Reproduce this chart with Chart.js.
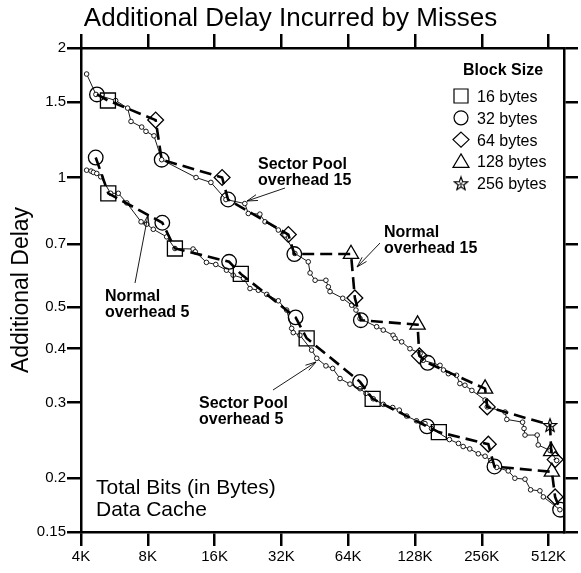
<!DOCTYPE html>
<html>
<head>
<meta charset="utf-8">
<script src="https://cdn.jsdelivr.net/npm/chart.js@4/dist/chart.umd.min.js"></script>
<style>
  html, body { margin: 0; padding: 0; background: #fff; }
  canvas { display: block; }
</style>
</head>
<body>
<canvas id="missChart" width="581" height="573"></canvas>
<script>
// Axis ticks (cache size in KBytes, delay)
const xTickValues = [4, 8, 16, 32, 64, 128, 256, 512]
const xTickLabels = ['4K', '8K', '16K', '32K', '64K', '128K', '256K', '512K']
const yTickValues = [0.15, 0.2, 0.3, 0.4, 0.5, 0.7, 1, 1.5, 2]
const yTickLabels = ['0.15', '0.2', '0.3', '0.4', '0.5', '0.7', '1', '1.5', '2']

// Normal cache, overhead 15 (dashed, marker = block size)
const normal15Size = [4.72, 5.29, 8.68, 9.24, 17.3, 18.4, 34.4, 36.6, 65.9, 68.6, 73, 131.5, 134, 146, 265, 271, 520, 526, 548]
const normal15Delay = [1.56, 1.51, 1.36, 1.10, 1.00, 0.889, 0.737, 0.664, 0.664, 0.525, 0.466, 0.455, 0.385, 0.371, 0.323, 0.293, 0.266, 0.231, 0.221]
const normal15Block = [32, 16, 64, 32, 64, 32, 64, 32, 128, 64, 32, 128, 64, 32, 128, 64, 256, 128, 64]

// Normal cache, overhead 5
const normal5Size = [4.66, 5.31, 9.3, 10.6, 18.6, 21, 37.1, 41.6, 72.4, 82.5, 145, 164, 274, 292, 530, 548, 577]
const normal5Delay = [1.113, 0.919, 0.785, 0.684, 0.637, 0.597, 0.473, 0.423, 0.335, 0.306, 0.264, 0.256, 0.240, 0.213, 0.207, 0.181, 0.169]
const normal5Block = [32, 16, 32, 16, 32, 16, 32, 16, 32, 16, 32, 16, 64, 32, 128, 64, 32]

// Sector pool, overhead 15 (thin line, small points)
const pool15Size = [4.24, 4.67, 5.73, 6.49, 6.72, 7.51, 7.85, 8.53, 9.24, 13.2, 15.4, 18.0, 21.9, 22.7, 25.6, 27.0, 31.0, 33.2, 36.8, 42.3, 43.1, 45.4, 50.8, 52.1, 53.0, 60.5, 66.4, 69.4, 72.4, 86.0, 92.1, 102, 104, 111.5, 121.5, 135, 139.5, 166, 172, 181, 197, 204, 215, 231, 265, 271, 326, 332, 391, 397, 401, 455, 460, 520, 557]
const pool15Delay = [1.74, 1.56, 1.51, 1.45, 1.35, 1.31, 1.28, 1.25, 1.10, 1.00, 0.974, 0.889, 0.870, 0.825, 0.822, 0.789, 0.755, 0.735, 0.666, 0.637, 0.600, 0.577, 0.577, 0.557, 0.543, 0.524, 0.505, 0.492, 0.470, 0.450, 0.442, 0.430, 0.423, 0.415, 0.400, 0.390, 0.376, 0.366, 0.357, 0.350, 0.347, 0.332, 0.329, 0.320, 0.304, 0.293, 0.285, 0.274, 0.270, 0.261, 0.252, 0.252, 0.239, 0.232, 0.220]

// Sector pool, overhead 5
const pool5Size = [4.24, 4.44, 4.55, 4.71, 4.91, 5.44, 5.89, 6.43, 7.46, 7.91, 8.47, 9.73, 10.6, 12.8, 13.1, 14.7, 16.2, 18.1, 19.4, 21.6, 23.1, 25.2, 27.5, 31.0, 33.8, 35.6, 36.2, 38.8, 43.8, 46.2, 50.8, 54.5, 58.8, 65.2, 72.4, 77.0, 83.0, 92.1, 101.6, 108.8, 117.4, 130, 142, 152, 183, 201, 211, 226, 247, 265, 281, 299, 337, 361, 401, 425, 468, 485, 576]
const pool5Delay = [1.04, 1.035, 1.028, 1.022, 1.004, 0.919, 0.919, 0.873, 0.789, 0.779, 0.758, 0.728, 0.684, 0.682, 0.672, 0.635, 0.628, 0.609, 0.593, 0.583, 0.552, 0.547, 0.535, 0.517, 0.492, 0.446, 0.436, 0.430, 0.397, 0.380, 0.365, 0.360, 0.341, 0.331, 0.323, 0.315, 0.306, 0.297, 0.292, 0.288, 0.279, 0.272, 0.268, 0.261, 0.246, 0.241, 0.237, 0.234, 0.228, 0.225, 0.220, 0.212, 0.208, 0.200, 0.199, 0.188, 0.187, 0.181, 0.169]

const blockSizes = [16, 32, 64, 128, 256]

const FONT = "'Liberation Sans', Arial, Helvetica, sans-serif"

// outlined 5-point star used for 256 byte blocks
function makeStar(size) {
  const c = document.createElement('canvas')
  c.width = size
  c.height = size
  const g = c.getContext('2d')
  const cx = size / 2, cy = size / 2 + 0.8
  const R = size / 2 - 1, r = R * 0.42
  const pts = []
  for (let i = 0; i < 10; i++) {
    const rad = i % 2 ? r : R
    const a = -Math.PI / 2 + i * Math.PI / 5
    pts.push([cx + rad * Math.cos(a), cy + rad * Math.sin(a)])
  }
  g.strokeStyle = '#000'
  g.lineWidth = 1.2
  g.beginPath()
  pts.forEach((p, i) => i ? g.lineTo(p[0], p[1]) : g.moveTo(p[0], p[1]))
  g.closePath()
  g.stroke()
  g.beginPath()
  for (let i = 1; i < 10; i += 2) {
    g.moveTo(cx, cy)
    g.lineTo(pts[i][0], pts[i][1])
  }
  g.lineWidth = 0.8
  g.stroke()
  return c
}
const starImg = makeStar(16)

const markerStyle = { 16: 'rect', 32: 'circle', 64: 'rectRot', 128: 'triangle', 256: starImg }
const markerRadius = { 16: 10.6, 32: 7.3, 64: 7.9, 128: 8.8, 256: 8 }

function normalLine(label, xs, ys, blocks, dash) {
  return {
    label,
    data: xs.map((x, i) => ({ x, y: ys[i] })),
    borderColor: '#000',
    borderWidth: 2.6,
    borderDash: dash,
    pointStyle: blocks.map(b => markerStyle[b]),
    pointRadius: blocks.map(b => markerRadius[b]),
    pointBorderColor: '#000',
    pointBorderWidth: 1.3,
    pointBackgroundColor: 'rgba(0,0,0,0)',
    tension: 0
  }
}

function poolLine(label, xs, ys) {
  return {
    label,
    data: xs.map((x, i) => ({ x, y: ys[i] })),
    borderColor: '#000',
    borderWidth: 0.9,
    pointStyle: 'circle',
    pointRadius: 2.3,
    pointBorderColor: '#000',
    pointBorderWidth: 0.9,
    pointBackgroundColor: '#fff',
    tension: 0
  }
}

const datasets = [
  normalLine('Normal overhead 15', normal15Size, normal15Delay, normal15Block, [12, 6]),
  normalLine('Normal overhead 5', normal5Size, normal5Delay, normal5Block, [12, 6]),
  poolLine('Sector Pool overhead 15', pool15Size, pool15Delay),
  poolLine('Sector Pool overhead 5', pool5Size, pool5Delay)
]

// axis frame: ticks on all four sides, pointing outward
const frameGrid = {
  drawOnChartArea: false,
  drawTicks: true,
  tickLength: 14,
  tickWidth: 2.5,
  tickColor: '#000',
  color: '#000',
  lineWidth: 2.5
}
const frameBorder = { display: true, color: '#000', width: 2.5 }
const tickFont = { family: FONT, size: 15 }

function setTicks(values) {
  return axis => { axis.ticks = values.map(v => ({ value: v })) }
}

// labels, arrows and the block size key
const notes = [
  { lines: ['Sector Pool', 'overhead 15'], x: 258, y: 169, from: [285, 188], to: [247, 201] },
  { lines: ['Normal', 'overhead 15'], x: 384, y: 237, from: [380, 243], to: [357, 267] },
  { lines: ['Normal', 'overhead 5'], x: 105, y: 301, from: [135, 283], to: [148, 215] },
  { lines: ['Sector Pool', 'overhead 5'], x: 199, y: 408, from: [273, 390], to: [316, 362] }
]

function drawKeySymbol(ctx, block, x, y) {
  ctx.save()
  ctx.strokeStyle = '#000'
  ctx.lineWidth = 1.2
  ctx.beginPath()
  if (block === 16) {
    ctx.rect(x - 7, y - 7, 14, 14)
  } else if (block === 32) {
    ctx.arc(x, y, 7, 0, Math.PI * 2)
  } else if (block === 64) {
    ctx.moveTo(x, y - 7.5); ctx.lineTo(x + 8, y); ctx.lineTo(x, y + 7.5); ctx.lineTo(x - 8, y); ctx.closePath()
  } else if (block === 128) {
    ctx.moveTo(x, y - 7.5); ctx.lineTo(x + 8, y + 6); ctx.lineTo(x - 8, y + 6); ctx.closePath()
  } else {
    ctx.drawImage(starImg, x - 8, y - 8)
  }
  ctx.stroke()
  ctx.restore()
}

const notesPlugin = {
  id: 'notes',
  afterDraw(chart) {
    const ctx = chart.ctx
    ctx.save()
    ctx.fillStyle = '#000'
    ctx.strokeStyle = '#000'
    ctx.textBaseline = 'alphabetic'
    ctx.textAlign = 'left'

    ctx.font = 'bold 16px ' + FONT
    notes.forEach(n => {
      n.lines.forEach((t, i) => ctx.fillText(t, n.x, n.y + i * 15.6))
      const [x0, y0] = n.from, [x1, y1] = n.to
      const a = Math.atan2(y1 - y0, x1 - x0)
      ctx.lineWidth = 0.9
      ctx.beginPath()
      ctx.moveTo(x0, y0)
      ctx.lineTo(x1, y1)
      ctx.moveTo(x1 - 11 * Math.cos(a - 0.28), y1 - 11 * Math.sin(a - 0.28))
      ctx.lineTo(x1, y1)
      ctx.lineTo(x1 - 11 * Math.cos(a + 0.28), y1 - 11 * Math.sin(a + 0.28))
      ctx.stroke()
    })

    ctx.font = '21px ' + FONT
    ctx.fillText('Total Bits (in Bytes)', 96, 494)
    ctx.fillText('Data Cache', 96, 516)

    ctx.font = 'bold 16px ' + FONT
    ctx.fillText('Block Size', 463, 75)
    ctx.font = '16px ' + FONT
    blockSizes.forEach((b, i) => {
      const cy = 96 + i * 21.8
      drawKeySymbol(ctx, b, 461, cy)
      ctx.fillText(b + ' bytes', 477, cy + 6)
    })
    ctx.restore()
  }
}

new Chart(document.getElementById('missChart'), {
  type: 'line',
  data: { datasets },
  plugins: [notesPlugin],
  options: {
    responsive: false,
    animation: false,
    devicePixelRatio: 1,
    layout: { padding: 0 },
    scales: {
      x: {
        type: 'logarithmic',
        position: 'bottom',
        min: 4,
        max: 601,
        border: frameBorder,
        grid: frameGrid,
        afterBuildTicks: setTicks(xTickValues),
        afterFit: s => { s.height = 41 },
        ticks: {
          font: tickFont,
          color: '#000',
          padding: 2,
          autoSkip: false,
          maxRotation: 0,
          callback: v => xTickLabels[xTickValues.indexOf(v)]
        }
      },
      x2: {
        type: 'logarithmic',
        position: 'top',
        min: 4,
        max: 601,
        border: frameBorder,
        grid: frameGrid,
        afterBuildTicks: setTicks(xTickValues),
        afterFit: s => { s.height = 16 },
        ticks: { display: false }
      },
      y: {
        type: 'logarithmic',
        position: 'left',
        min: 0.15,
        max: 2,
        border: frameBorder,
        grid: frameGrid,
        afterBuildTicks: setTicks(yTickValues),
        afterFit: s => { s.width = 81 },
        title: {
          display: true,
          text: 'Additional Delay',
          color: '#000',
          font: { family: FONT, size: 23 },
          padding: { top: 8, bottom: 0 }
        },
        ticks: {
          font: tickFont,
          color: '#000',
          padding: 1,
          autoSkip: false,
          callback: v => yTickLabels[yTickValues.indexOf(v)]
        }
      },
      y2: {
        type: 'logarithmic',
        position: 'right',
        min: 0.15,
        max: 2,
        border: frameBorder,
        grid: frameGrid,
        afterBuildTicks: setTicks(yTickValues),
        afterFit: s => { s.width = 17 },
        ticks: { display: false }
      }
    },
    plugins: {
      legend: { display: false },
      tooltip: { enabled: false },
      title: {
        display: true,
        text: 'Additional Delay Incurred by Misses',
        color: '#000',
        font: { family: FONT, size: 26, weight: 'normal', lineHeight: 1 },
        padding: { top: 6, bottom: 0 }
      }
    }
  }
})
</script>
</body>
</html>
